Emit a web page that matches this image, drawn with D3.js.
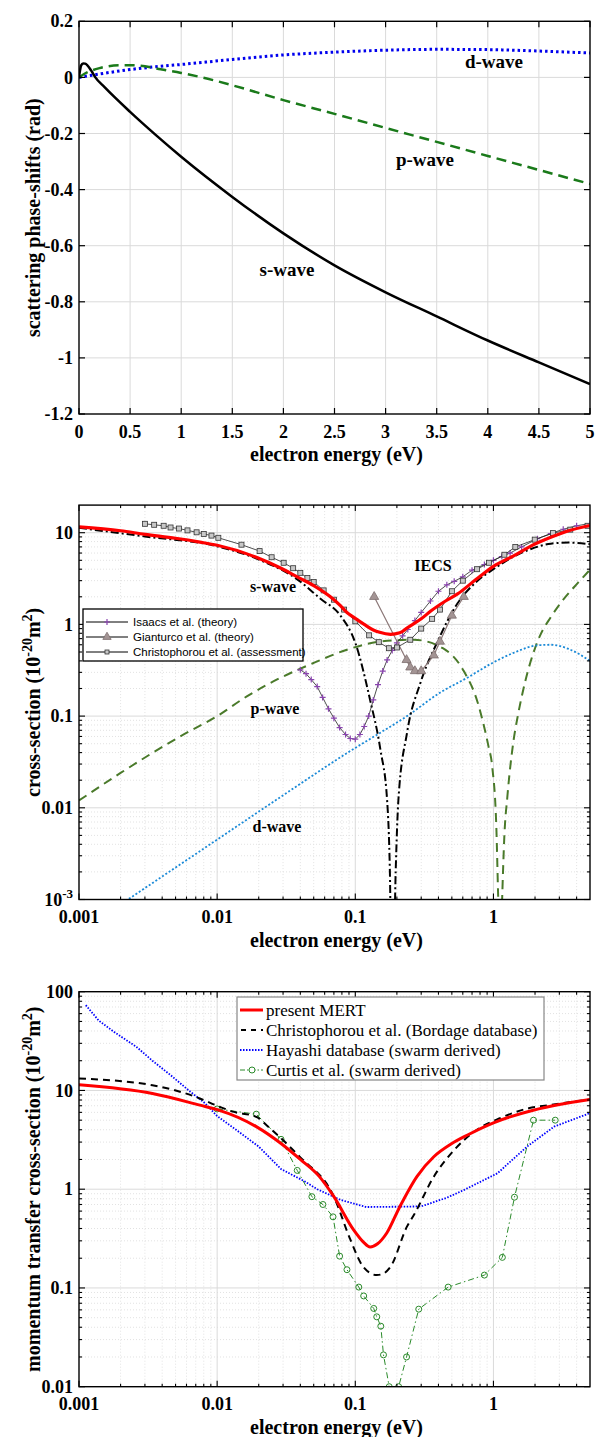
<!DOCTYPE html>
<html><head><meta charset="utf-8">
<script src="https://cdn.jsdelivr.net/npm/d3@7"></script>
<style>body{margin:0;background:#fff} svg{display:block}</style>
</head><body>
<svg id="c" width="597" height="1437"></svg>
<script>
// ---------- DATA ----------
// Panel 1: phase shifts (rad) vs energy (eV)
const sPhaseE = [0, 0.01, 0.02, 0.04, 0.06, 0.08, 0.12, 0.16, 0.25, 0.5, 0.75, 1, 1.5, 2, 2.5, 3, 3.5, 4, 4.5, 5];
const sPhase  = [0, 0.025, 0.042, 0.05, 0.049, 0.044, 0.024, 0, -0.035, -0.123, -0.205, -0.283, -0.426, -0.556, -0.67, -0.766, -0.852, -0.938, -1.016, -1.093];
const pPhaseE = [0, 0.05, 0.2, 0.4, 0.55, 0.8, 1, 1.25, 1.5, 2, 2.5, 3, 3.5, 4, 4.5, 5];
const pPhase  = [0, 0.012, 0.033, 0.043, 0.043, 0.029, 0.016, -0.004, -0.028, -0.081, -0.13, -0.18, -0.23, -0.28, -0.33, -0.38];
const dPhaseE = [0, 0.2, 0.5, 0.75, 1, 1.5, 2, 2.5, 3, 3.5, 4, 4.5, 5];
const dPhase  = [0, 0.012, 0.028, 0.038, 0.046, 0.064, 0.08, 0.09, 0.097, 0.1, 0.099, 0.094, 0.087];
const phaseXTicks = [0, 0.5, 1, 1.5, 2, 2.5, 3, 3.5, 4, 4.5, 5];
const phaseYTicks = [0.2, 0, -0.2, -0.4, -0.6, -0.8, -1, -1.2];

// Panel 2: integral elastic cross sections (1e-20 m^2)
const iecsE = [0.001, 0.002, 0.003, 0.005, 0.0075, 0.01, 0.0192, 0.029, 0.038, 0.05, 0.066, 0.078, 0.087, 0.097, 0.116, 0.135, 0.15, 0.18, 0.21, 0.238, 0.3, 0.35, 0.45, 0.55, 0.75, 1, 1.4, 1.85, 2.6, 3.5, 5];
const iecs  = [11.6, 10.5, 9.6, 8.7, 7.9, 7.3, 5.4, 4.1, 3.3, 2.65, 2.0, 1.6, 1.35, 1.2, 1.0, 0.87, 0.82, 0.78, 0.81, 0.92, 1.15, 1.39, 1.8, 2.15, 3.1, 4.3, 5.6, 7.1, 8.9, 10.5, 12];
const sWaveE = [0.001, 0.003, 0.01, 0.02, 0.038, 0.056, 0.078, 0.1, 0.128, 0.152, 0.17, 0.178, 0.182, 0.19, 0.196, 0.205, 0.237, 0.296, 0.39, 0.55, 0.75, 1, 1.4, 1.85, 2.6, 3.5, 5];
const sWave  = [11.3, 9.1, 7.1, 5.1, 3.1, 1.9, 1.25, 0.63, 0.15, 0.043, 0.012, 0.002, 0.0003, 0.0003, 0.002, 0.012, 0.066, 0.23, 0.63, 1.7, 2.9, 4.0, 5.5, 6.6, 7.6, 7.8, 7.5];
const pWaveE = [0.001, 0.002, 0.0054, 0.01, 0.0164, 0.0285, 0.05, 0.087, 0.152, 0.265, 0.43, 0.61, 0.77, 0.85, 0.92, 0.98, 1.05, 1.08, 1.12, 1.16, 1.2, 1.26, 1.4, 1.5, 1.7, 2.0, 2.17, 2.6, 3.2, 4.1, 5];
const pWave  = [0.012, 0.024, 0.06, 0.1, 0.164, 0.26, 0.38, 0.53, 0.65, 0.68, 0.55, 0.31, 0.14, 0.08, 0.047, 0.028, 0.006, 0.0012, 0.0002, 0.0012, 0.005, 0.013, 0.055, 0.1, 0.24, 0.55, 0.75, 1.2, 1.86, 2.85, 3.95];
const dWaveE = [0.001, 0.00226, 0.01, 0.027, 0.1, 0.152, 0.237, 0.41, 0.64, 1, 1.4, 2.07, 2.6, 3.5, 5];
const dWave  = [0.00044, 0.001, 0.0045, 0.0123, 0.045, 0.066, 0.1, 0.18, 0.26, 0.385, 0.49, 0.59, 0.6, 0.54, 0.4];
const isaacsE = [0.040, 0.044, 0.048, 0.053, 0.058, 0.064, 0.070, 0.077, 0.085, 0.092, 0.100, 0.108, 0.116, 0.125, 0.135, 0.146, 0.158, 0.170, 0.185, 0.200, 0.22, 0.24, 0.27, 0.30, 0.35, 0.40, 0.46, 0.52, 0.60, 0.70, 0.86, 1.0, 1.15, 1.32, 1.6, 2.08, 2.6, 3.2, 4.0, 5.0];
const isaacs  = [0.32, 0.29, 0.25, 0.21, 0.16, 0.12, 0.095, 0.075, 0.063, 0.057, 0.056, 0.063, 0.077, 0.10, 0.15, 0.22, 0.31, 0.41, 0.52, 0.63, 0.75, 0.88, 1.1, 1.35, 1.8, 2.3, 2.7, 2.95, 3.3, 3.9, 4.5, 5.0, 5.5, 6.0, 7.0, 8.6, 9.8, 10.9, 11.9, 12.6];
const giantE = [0.137, 0.235, 0.25, 0.27, 0.30, 0.37, 0.41, 0.5, 0.61];
const giant  = [2.0, 0.41, 0.34, 0.31, 0.31, 0.46, 0.65, 1.25, 2.0];
const christE = [0.003, 0.0035, 0.0041, 0.0046, 0.0053, 0.0061, 0.0071, 0.008, 0.0091, 0.0102, 0.015, 0.0203, 0.0248, 0.0303, 0.0355, 0.04, 0.045, 0.05, 0.059, 0.07, 0.083, 0.1, 0.126, 0.148, 0.175, 0.2, 0.25, 0.3, 0.36, 0.41, 0.5, 0.6, 0.76, 0.93, 1.2, 1.44, 1.99, 2.7, 3.6, 4.8];
const christ  = [12.5, 12.2, 11.9, 11.4, 11.1, 10.6, 10.1, 9.7, 9.3, 8.8, 7.4, 6.3, 5.4, 4.7, 4.1, 3.65, 3.2, 2.9, 2.35, 1.86, 1.45, 1.08, 0.76, 0.64, 0.55, 0.56, 0.68, 0.9, 1.15, 1.45, 2.3, 3.0, 4.0, 4.7, 5.75, 7.0, 8.4, 9.9, 10.8, 11.9];

// Panel 3: momentum transfer cross sections (1e-20 m^2)
const mertE = [0.001, 0.0034, 0.0075, 0.01, 0.0192, 0.029, 0.04, 0.055, 0.07, 0.097, 0.115, 0.128, 0.145, 0.169, 0.21, 0.28, 0.37, 0.5, 0.65, 1.0, 1.94, 3, 5];
const mert  = [11.4, 9.3, 7.1, 6.4, 4.3, 2.9, 2.0, 1.34, 0.84, 0.39, 0.29, 0.26, 0.28, 0.36, 0.665, 1.35, 2.13, 2.9, 3.54, 4.7, 6.3, 7.2, 8.1];
const bordE = [0.001, 0.0034, 0.0075, 0.01, 0.013, 0.0192, 0.023, 0.031, 0.04, 0.07, 0.092, 0.114, 0.143, 0.16, 0.18, 0.237, 0.266, 0.37, 0.52, 0.76, 1.1, 1.8, 2.5, 5];
const bord  = [13.2, 11.3, 8.3, 7.0, 6.1, 5.4, 4.4, 3.0, 2.1, 0.84, 0.31, 0.164, 0.135, 0.14, 0.164, 0.42, 0.55, 1.34, 2.5, 4.0, 5.2, 6.6, 7.1, 8.1];
const hayE = [0.00112, 0.00139, 0.0018, 0.0026, 0.0034, 0.0046, 0.0064, 0.0082, 0.01, 0.0137, 0.02, 0.029, 0.043, 0.053, 0.078, 0.12, 0.21, 0.3, 0.46, 0.61, 1.07, 1.75, 2.75, 5];
const hay  = [73, 51, 39, 27.7, 20, 14.3, 9.7, 7.4, 5.5, 4.0, 2.7, 1.6, 1.2, 1.0, 0.78, 0.66, 0.665, 0.67, 0.82, 0.98, 1.45, 2.7, 4.3, 5.9];
const curtisE = [0.01, 0.0192, 0.029, 0.038, 0.0485, 0.0583, 0.069, 0.077, 0.087, 0.106, 0.115, 0.136, 0.143, 0.153, 0.16, 0.176, 0.206, 0.235, 0.288, 0.47, 0.86, 1.16, 1.42, 1.95, 2.8];
const curtis  = [6.5, 5.75, 3.2, 1.55, 0.84, 0.70, 0.525, 0.21, 0.153, 0.102, 0.083, 0.062, 0.051, 0.041, 0.021, 0.01, 0.01, 0.02, 0.061, 0.102, 0.135, 0.204, 0.83, 5.0, 5.0];

const logXTicks = [0.001, 0.01, 0.1, 1];
const logXLabels = ["0.001", "0.01", "0.1", "1"];
const p2YTicks = [0.001, 0.01, 0.1, 1, 10];
const p3YTicks = [0.01, 0.1, 1, 10, 100];
const p3YLabels = ["0.01", "0.1", "1", "10", "100"];

// ---------- DRAWING ----------
const zip = (a, b) => a.map((v, i) => [v, b[i]]);
const svg = d3.select("#c");
const SERIF = "'Liberation Serif','Times New Roman',serif";
const SANS = "'Liberation Sans',Arial,sans-serif";
const L = 79, R = 590;
const GRID = "#dadada", MGRID = "#e2e2e2";

function clip(id, y0, y1) {
  svg.append("clipPath").attr("id", id).append("rect")
    .attr("x", L).attr("y", y0).attr("width", R - L).attr("height", y1 - y0);
  return "url(#" + id + ")";
}
function minorVals(lo, hi) {
  const out = [];
  for (let d = Math.pow(10, Math.floor(Math.log10(lo))); d < hi; d *= 10)
    for (let m = 2; m <= 9; m++) { const v = m * d; if (v > lo * 1.0001 && v < hi * 0.9999) out.push(+v.toPrecision(3)); }
  return out;
}
function frame(x, y, top, bot) {
  svg.append("rect").attr("x", L).attr("y", top).attr("width", R - L).attr("height", bot - top)
    .attr("fill", "none").attr("stroke", "#000").attr("stroke-width", 1.4);
}
function ticks(g, x, y, xs, ys, top, bot, len) {
  xs.forEach(v => {
    const px = x(v);
    g.append("line").attr("x1", px).attr("x2", px).attr("y1", bot).attr("y2", bot - len);
    g.append("line").attr("x1", px).attr("x2", px).attr("y1", top).attr("y2", top + len);
  });
  ys.forEach(v => {
    const py = y(v);
    g.append("line").attr("x1", L).attr("x2", L + len).attr("y1", py).attr("y2", py);
    g.append("line").attr("x1", R).attr("x2", R - len).attr("y1", py).attr("y2", py);
  });
}
function yTitle(cy, parts) {
  const t = svg.append("text").attr("transform", `translate(40,${cy}) rotate(-90)`)
    .attr("text-anchor", "middle").attr("font-family", SERIF).attr("font-weight", "bold").attr("font-size", 20);
  parts.forEach(p => {
    const ts = t.append("tspan").text(p.t);
    if (p.sup) ts.attr("font-size", 14).attr("dy", -8);
    if (p.down) ts.attr("dy", 8);
  });
}
function xTitle(yb) {
  svg.append("text").attr("x", (L + R) / 2 + 2).attr("y", yb).attr("text-anchor", "middle")
    .attr("font-family", SERIF).attr("font-weight", "bold").attr("font-size", 20).text("electron energy (eV)");
}
function label(x, y, txt, size) {
  svg.append("text").attr("x", x).attr("y", y).attr("text-anchor", "middle")
    .attr("font-family", SERIF).attr("font-weight", "bold").attr("font-size", size).text(txt);
}

// ===== Panel 1 =====
{
  const top = 21.3, bot = 414;
  const x = d3.scaleLinear().domain([0, 5]).range([L, R]);
  const y = d3.scaleLinear().domain([-1.2, 0.2]).range([bot, top]);
  const g = svg.append("g").attr("stroke", GRID).attr("stroke-width", 1);
  phaseXTicks.slice(1, -1).forEach(v => g.append("line").attr("x1", x(v)).attr("x2", x(v)).attr("y1", top).attr("y2", bot));
  phaseYTicks.slice(1, -1).forEach(v => g.append("line").attr("x1", L).attr("x2", R).attr("y1", y(v)).attr("y2", y(v)));
  const cp = clip("cp1", top, bot);
  const ln = d3.line().x(d => x(d[0])).y(d => y(d[1])).curve(d3.curveMonotoneX);
  const lg = svg.append("g").attr("clip-path", cp).attr("fill", "none");
  lg.append("path").attr("d", ln(zip(dPhaseE, dPhase))).attr("stroke", "#0000ee").attr("stroke-width", 3).attr("stroke-dasharray", "2.5,3");
  lg.append("path").attr("d", ln(zip(pPhaseE, pPhase))).attr("stroke", "#1a7a1a").attr("stroke-width", 2.5).attr("stroke-dasharray", "10,6");
  lg.append("path").attr("d", ln(zip(sPhaseE, sPhase))).attr("stroke", "#000").attr("stroke-width", 2.5);
  const tg = svg.append("g").attr("stroke", "#000").attr("stroke-width", 1.2);
  ticks(tg, x, y, phaseXTicks, phaseYTicks, top, bot, 6);
  frame(x, y, top, bot);
  phaseXTicks.forEach(v => svg.append("text").attr("x", x(v)).attr("y", 438).attr("text-anchor", "middle")
    .attr("font-family", SERIF).attr("font-weight", "bold").attr("font-size", 18).text(String(v)));
  phaseYTicks.forEach(v => svg.append("text").attr("x", 73).attr("y", y(v)).attr("dy", "0.34em").attr("text-anchor", "end")
    .attr("font-family", SERIF).attr("font-weight", "bold").attr("font-size", 18).text(String(v).replace("\u2212", "-")));
  xTitle(461);
  yTitle((top + bot) / 2, [{t: "scattering phase-shifts (rad)"}]);
  label(494, 68, "d-wave", 19);
  label(425, 166, "p-wave", 19);
  label(287, 276, "s-wave", 19);
}

function logPanel(top, bot, ydom, id) {
  const x = d3.scaleLog().domain([0.001, 5]).range([L, R]);
  const y = d3.scaleLog().domain(ydom).range([bot, top]);
  const mx = minorVals(0.001, 5), my = minorVals(ydom[0], ydom[1]);
  const mg = svg.append("g").attr("stroke", MGRID).attr("stroke-width", 1).attr("stroke-dasharray", "1,2");
  mx.forEach(v => mg.append("line").attr("x1", x(v)).attr("x2", x(v)).attr("y1", top).attr("y2", bot));
  my.forEach(v => mg.append("line").attr("x1", L).attr("x2", R).attr("y1", y(v)).attr("y2", y(v)));
  const g = svg.append("g").attr("stroke", GRID).attr("stroke-width", 1);
  logXTicks.slice(1).forEach(v => g.append("line").attr("x1", x(v)).attr("x2", x(v)).attr("y1", top).attr("y2", bot));
  const majY = [];
  for (let v = ydom[0]; v <= ydom[1] * 1.0001; v *= 10) majY.push(+v.toPrecision(2));
  majY.forEach(v => { if (y(v) < bot - 1 && y(v) > top + 1) g.append("line").attr("x1", L).attr("x2", R).attr("y1", y(v)).attr("y2", y(v)); });
  return {x, y, mx, my, majY, cp: clip(id, top, bot)};
}
function logFrame(P, top, bot) {
  const tg = svg.append("g").attr("stroke", "#000").attr("stroke-width", 1.1);
  ticks(tg, P.x, P.y, logXTicks, P.majY, top, bot, 6);
  ticks(tg, P.x, P.y, P.mx, P.my, top, bot, 3);
  frame(P.x, P.y, top, bot);
}
function xLabels(P, yb) {
  logXTicks.forEach((v, i) => svg.append("text").attr("x", P.x(v)).attr("y", yb).attr("text-anchor", "middle")
    .attr("font-family", SERIF).attr("font-weight", "bold").attr("font-size", 18).text(logXLabels[i]));
}

// ===== Panel 2 =====
{
  const top = 505.1, bot = 899.5;
  const P = logPanel(top, bot, [0.001, 20], "cp2");
  const {x, y} = P;
  const smooth = d3.line().x(d => x(d[0])).y(d => y(d[1])).curve(d3.curveMonotoneX);
  const lin = d3.line().x(d => x(d[0])).y(d => y(d[1]));
  const lg = svg.append("g").attr("clip-path", P.cp).attr("fill", "none");
  lg.append("path").attr("d", smooth(zip(pWaveE, pWave))).attr("stroke", "#4a7a2a").attr("stroke-width", 2).attr("stroke-dasharray", "9,6");
  lg.append("path").attr("d", smooth(zip(dWaveE, dWave))).attr("stroke", "#1a8ad8").attr("stroke-width", 1.8).attr("stroke-dasharray", "2,2");
  lg.append("path").attr("d", smooth(zip(sWaveE, sWave))).attr("stroke", "#000").attr("stroke-width", 2).attr("stroke-dasharray", "8,3,2,3");
  // Isaacs
  const isa = zip(isaacsE, isaacs);
  lg.append("path").attr("d", lin(isa)).attr("stroke", "#222").attr("stroke-width", 0.8);
  lg.selectAll(".isa").data(isa).enter().append("path")
    .attr("d", d => `M${x(d[0]) - 3},${y(d[1])}h6M${x(d[0])},${y(d[1]) - 3}v6`)
    .attr("stroke", "#8a44b0").attr("stroke-width", 1.2);
  // Gianturco
  const gia = zip(giantE, giant);
  lg.append("path").attr("d", lin(gia)).attr("stroke", "#8b7777").attr("stroke-width", 1.2);
  lg.selectAll(".gia").data(gia).enter().append("path")
    .attr("d", d3.symbol(d3.symbolTriangle, 36)())
    .attr("transform", d => `translate(${x(d[0])},${y(d[1])})`)
    .attr("fill", "#a39494").attr("stroke", "#7d6e6e").attr("stroke-width", 0.8);
  // Christophorou
  const chr = zip(christE, christ);
  lg.append("path").attr("d", lin(chr)).attr("stroke", "#222").attr("stroke-width", 0.8);
  lg.selectAll(".chr").data(chr).enter().append("rect")
    .attr("x", d => x(d[0]) - 2.5).attr("y", d => y(d[1]) - 2.5).attr("width", 5).attr("height", 5)
    .attr("fill", "#c8c8c8").attr("stroke", "#333").attr("stroke-width", 0.8);
  // IECS
  lg.append("path").attr("d", smooth(zip(iecsE, iecs))).attr("stroke", "#ff0000").attr("stroke-width", 3.2);
  logFrame(P, top, bot);
  // y labels
  p2YTicks.forEach(v => {
    const t = svg.append("text").attr("x", 73).attr("y", y(v)).attr("dy", "0.34em").attr("text-anchor", "end")
      .attr("font-family", SERIF).attr("font-weight", "bold").attr("font-size", 18);
    if (v === 0.001) { t.append("tspan").text("10"); t.append("tspan").attr("font-size", 13).attr("dy", -8).text("-3"); }
    else t.text(String(v));
  });
  xLabels(P, 922.5);
  xTitle(947);
  yTitle((top + bot) / 2, [{t: "cross-section (10"}, {t: "-20", sup: true}, {t: "m", down: true}, {t: "2", sup: true}, {t: ")", down: true}]);
  label(433, 571, "IECS", 16);
  label(273, 592, "s-wave", 16);
  label(275, 714, "p-wave", 16);
  label(277, 832, "d-wave", 16);
  // legend
  const lgd = svg.append("g");
  lgd.append("rect").attr("x", 83).attr("y", 609).attr("width", 220).attr("height", 52)
    .attr("fill", "#fff").attr("stroke", "#000").attr("stroke-width", 1.3);
  const rows = [{t: "Isaacs et al. (theory)", m: "plus"}, {t: "Gianturco et al. (theory)", m: "tri"}, {t: "Christophorou et al. (assessment)", m: "sq"}];
  rows.forEach((r, i) => {
    const yy = 622 + i * 15;
    lgd.append("line").attr("x1", 86).attr("x2", 128).attr("y1", yy).attr("y2", yy).attr("stroke", "#000").attr("stroke-width", 1);
    if (r.m === "plus") lgd.append("path").attr("d", `M104,${yy}h6M107,${yy - 3}v6`).attr("stroke", "#8a44b0").attr("stroke-width", 1.2);
    if (r.m === "tri") lgd.append("path").attr("d", d3.symbol(d3.symbolTriangle, 30)()).attr("transform", `translate(107,${yy})`).attr("fill", "#a39494").attr("stroke", "#7d6e6e").attr("stroke-width", 0.8);
    if (r.m === "sq") lgd.append("rect").attr("x", 105).attr("y", yy - 2).attr("width", 4).attr("height", 4).attr("fill", "#c8c8c8").attr("stroke", "#333").attr("stroke-width", 0.8);
    lgd.append("text").attr("x", 133).attr("y", yy + 4).attr("font-family", SANS).attr("font-size", 11.5).text(r.t);
  });
}

// ===== Panel 3 =====
{
  const top = 991.7, bot = 1386.7;
  const P = logPanel(top, bot, [0.01, 100], "cp3");
  const {x, y} = P;
  const smooth = d3.line().x(d => x(d[0])).y(d => y(d[1])).curve(d3.curveMonotoneX);
  const lin = d3.line().x(d => x(d[0])).y(d => y(d[1]));
  const lg = svg.append("g").attr("clip-path", P.cp).attr("fill", "none");
  const cur = zip(curtisE, curtis);
  lg.append("path").attr("d", lin(cur)).attr("stroke", "#2a8a2a").attr("stroke-width", 1).attr("stroke-dasharray", "6,3,1.5,3");
  lg.selectAll(".cur").data(cur).enter().append("circle").attr("cx", d => x(d[0])).attr("cy", d => y(d[1])).attr("r", 3)
    .attr("fill", "none").attr("stroke", "#2a8a2a").attr("stroke-width", 1);
  lg.append("path").attr("d", lin(zip(hayE, hay))).attr("stroke", "#0000ff").attr("stroke-width", 1.8).attr("stroke-dasharray", "1.5,1.5");
  lg.append("path").attr("d", smooth(zip(bordE, bord))).attr("stroke", "#000").attr("stroke-width", 2).attr("stroke-dasharray", "7,5");
  lg.append("path").attr("d", smooth(zip(mertE, mert))).attr("stroke", "#ff0000").attr("stroke-width", 3);
  logFrame(P, top, bot);
  p3YTicks.forEach((v, i) => svg.append("text").attr("x", 73).attr("y", y(v)).attr("dy", "0.34em").attr("text-anchor", "end")
    .attr("font-family", SERIF).attr("font-weight", "bold").attr("font-size", 18).text(p3YLabels[i]));
  xLabels(P, 1410);
  xTitle(1434);
  yTitle((top + bot) / 2, [{t: "momentum transfer cross-section (10"}, {t: "-20", sup: true}, {t: "m", down: true}, {t: "2", sup: true}, {t: ")", down: true}]);
  // legend
  const lgd = svg.append("g");
  lgd.append("rect").attr("x", 237).attr("y", 997).attr("width", 307).attr("height", 83)
    .attr("fill", "#fff").attr("stroke", "#888").attr("stroke-width", 1.2);
  const rows = ["present MERT", "Christophorou et al. (Bordage database)", "Hayashi database (swarm derived)", "Curtis et al. (swarm derived)"];
  rows.forEach((t, i) => {
    const yy = 1010 + i * 20;
    const l = lgd.append("line").attr("x1", 240).attr("x2", 263).attr("y1", yy).attr("y2", yy);
    if (i === 0) l.attr("stroke", "#ff0000").attr("stroke-width", 3);
    if (i === 1) l.attr("stroke", "#000").attr("stroke-width", 2).attr("stroke-dasharray", "5,5").attr("x1", 241);
    if (i === 2) l.attr("stroke", "#0000ff").attr("stroke-width", 1.8).attr("stroke-dasharray", "1.5,1.5");
    if (i === 3) {
      l.attr("stroke", "#2a8a2a").attr("stroke-width", 1).attr("stroke-dasharray", "5,2,1.5,2");
      lgd.append("circle").attr("cx", 252).attr("cy", yy).attr("r", 3).attr("fill", "#fff").attr("stroke", "#2a8a2a").attr("stroke-width", 1);
    }
    lgd.append("text").attr("x", 266).attr("y", yy + 6).attr("font-family", SERIF).attr("font-size", 17).text(t);
  });
}
</script>
</body></html>
